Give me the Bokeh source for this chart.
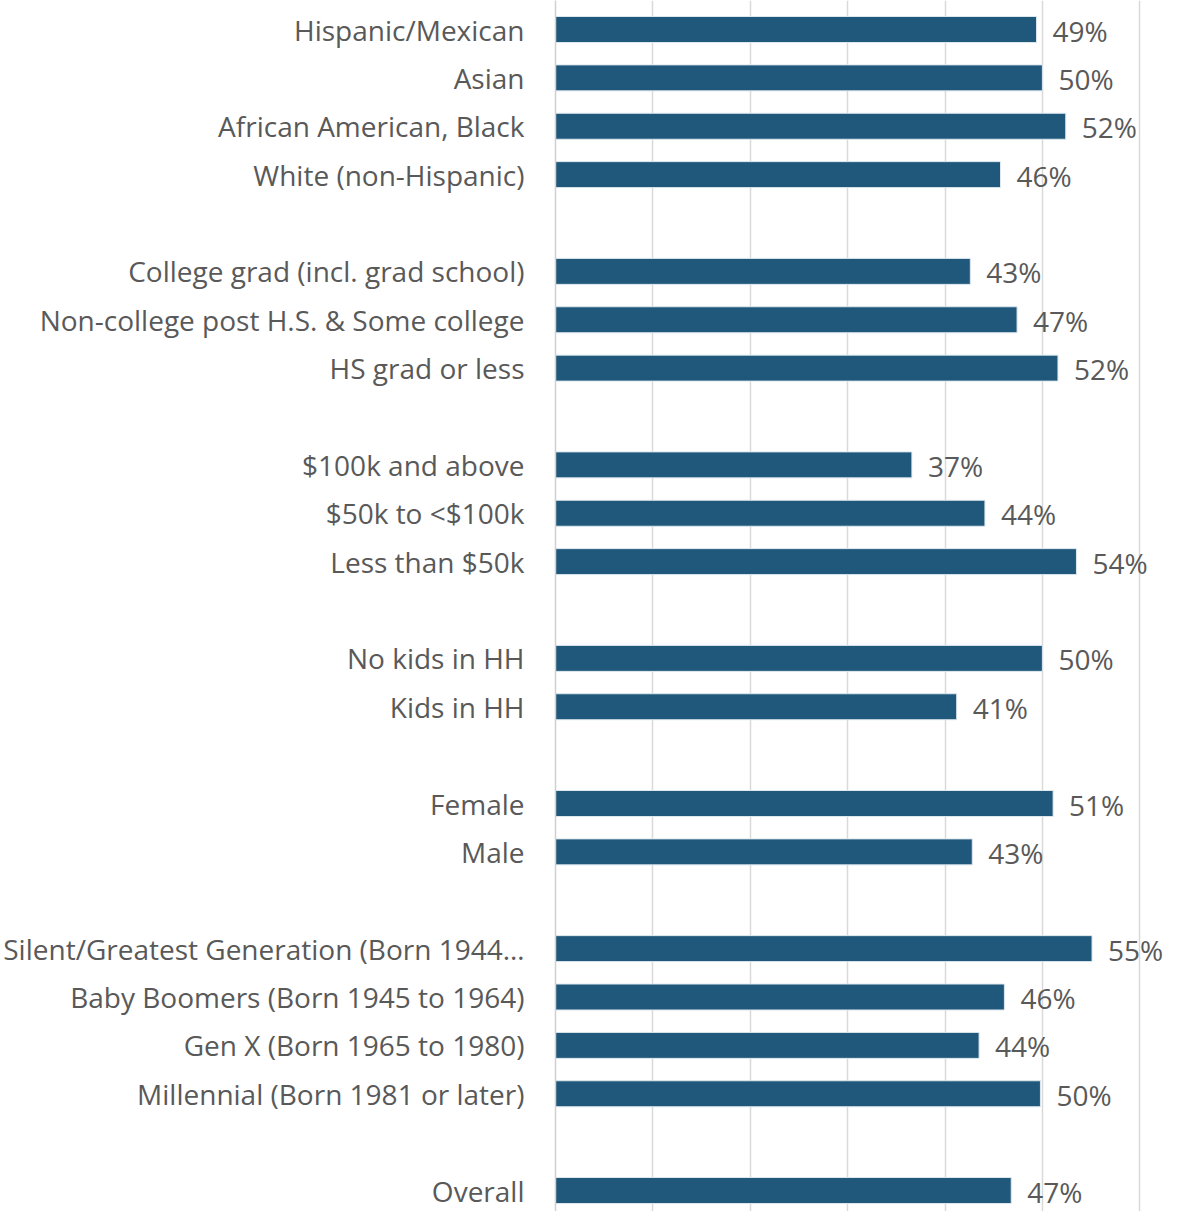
from bokeh.plotting import figure
from bokeh.models import ColumnDataSource, FixedTicker, Range1d
from bokeh.embed import file_html
from bokeh.resources import INLINE
from bokeh.core.properties import value

categories = [
    "Hispanic/Mexican", "Asian", "African American, Black", "White (non-Hispanic)",
    "College grad (incl. grad school)", "Non-college post H.S. & Some college", "HS grad or less",
    "$100k and above", "$50k to <$100k", "Less than $50k",
    "No kids in HH", "Kids in HH",
    "Female", "Male",
    "Silent/Greatest Generation (Born 1944\u2026", "Baby Boomers (Born 1945 to 1964)",
    "Gen X (Born 1965 to 1980)", "Millennial (Born 1981 or later)",
    "Overall",
]
values = [49.4, 50.0, 52.4, 45.7, 42.6, 47.4, 51.6, 36.6, 44.1, 53.5,
          50.0, 41.2, 51.1, 42.8, 55.1, 46.1, 43.5, 49.8, 46.8]
value_labels = ["49%", "50%", "52%", "46%", "43%", "47%", "52%", "37%", "44%", "54%",
                "50%", "41%", "51%", "43%", "55%", "46%", "44%", "50%", "47%"]
group_sizes = [4, 3, 3, 2, 2, 4, 1]
x_ticks = [0, 10, 20, 30, 40, 50, 60]

# slot positions (one empty slot between groups)
ys = []
slot = 0
for g in group_sizes:
    for _ in range(g):
        ys.append(-slot)
        slot += 1
    slot += 1

BAR = "#1F587A"
TXT = "#595959"
FONT = "Open Sans"

src = ColumnDataSource(dict(y=ys, v=values, lab=value_labels, cat=categories))

p = figure(width=1186, height=1211, output_backend="svg", toolbar_location=None,
           x_range=Range1d(0, 64.8), y_range=Range1d(-24.434, 0.5995),
           min_border_left=555, min_border_right=0, min_border_top=0, min_border_bottom=0,
           x_axis_location=None)
p.outline_line_color = None
p.background_fill_color = "white"
p.border_fill_color = "white"

p.hbar(y="y", left=0, right="v", height=0.537, source=src,
       fill_color=BAR, line_color="#DDE7EE", line_width=1)
p.text(x="v", y="y", text="lab", source=src, x_offset=16, y_offset=1,
       text_font=value(FONT), text_font_size="28px", text_color=TXT,
       text_baseline="middle", text_align="left", text_line_height=1.0)

p.xgrid.ticker = FixedTicker(ticks=x_ticks)
p.xgrid.grid_line_color = "#D9D9D9"
p.xgrid.grid_line_width = 1.5
p.ygrid.grid_line_color = None

p.yaxis.ticker = FixedTicker(ticks=ys)
p.yaxis.major_label_overrides = {y: c for y, c in zip(ys, categories)}
p.yaxis.major_label_text_font = FONT
p.yaxis.major_label_text_font_size = "28px"
p.yaxis.major_label_text_color = TXT
p.yaxis.major_tick_line_color = None
p.yaxis.minor_tick_line_color = None
p.yaxis.major_tick_in = 0
p.yaxis.major_tick_out = 0
p.yaxis.major_label_standoff = 31
p.yaxis.axis_line_color = "#D0D0D0"
p.yaxis.axis_line_width = 1.5

open("out.html", "w").write(file_html(p, INLINE))
